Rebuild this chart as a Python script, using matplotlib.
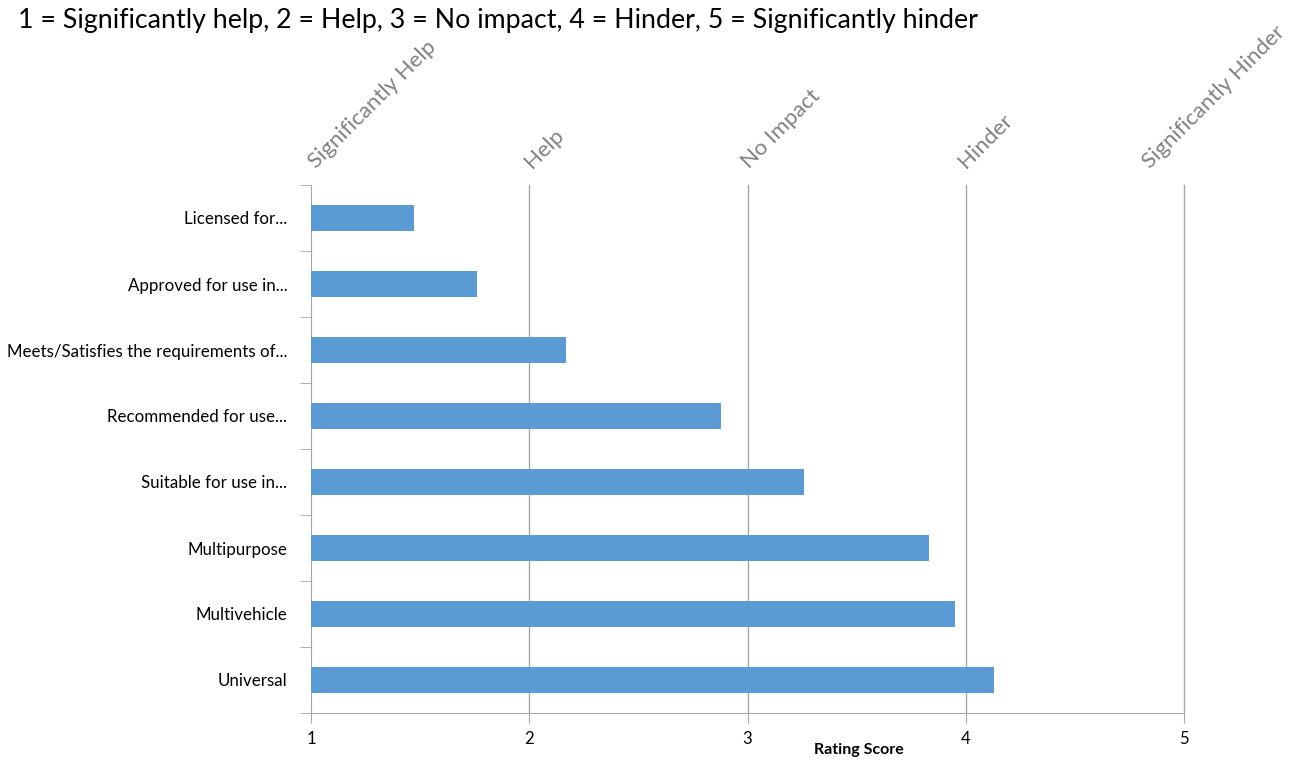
import numpy as np
import matplotlib
matplotlib.use("Agg")
import matplotlib.pyplot as plt

plt.rcParams['font.family'] = ['Lato', 'DejaVu Sans']

# data (bottom to top)
categories = ["Universal", "Multivehicle", "Multipurpose", "Suitable for use in...",
              "Recommended for use...", "Meets/Satisfies the requirements of...",
              "Approved for use in...", "Licensed for..."]
scores = [4.13, 3.95, 3.83, 3.26, 2.88, 2.17, 1.76, 1.47]
scale_ticks = [1, 2, 3, 4, 5]
scale_names = ["Significantly Help", "Help", "No Impact", "Hinder", "Significantly Hinder"]
title = "1 = Significantly help, 2 = Help, 3 = No impact, 4 = Hinder, 5 = Significantly hinder"

fig = plt.figure(figsize=(13.1, 7.65), dpi=100)
ax = fig.add_axes([311/1310, 1-713/765, 873/1310, 528/765])

y = np.arange(len(categories))
ax.barh(y, np.array(scores) - 1, left=1, height=0.39, color="#5B9BD5", zorder=3)

ax.set_xlim(1, 5)
ax.set_ylim(-0.5, len(categories) - 0.5)

grid_c = "#A6A6A6"
ax.set_xticks(scale_ticks)
ax.set_xticklabels([str(t) for t in scale_ticks], fontsize=12)
for t in scale_ticks[1:]:
    ax.axvline(t, color=grid_c, lw=1, zorder=0, clip_on=False)
ax.tick_params(axis='x', length=7, color=grid_c, pad=6)

ax.set_yticks(y)
ax.set_yticklabels(categories, fontsize=12.2)
ax.set_yticks(np.arange(-0.5, len(categories)), minor=True)
ax.tick_params(axis='y', which='major', length=0, pad=17)
ax.tick_params(axis='y', which='minor', length=8, color=grid_c)

for s in ['top', 'right']:
    ax.spines[s].set_visible(False)
ax.spines['left'].set_color(grid_c)
ax.spines['bottom'].set_color(grid_c)

ax.set_xlabel("Rating Score", fontsize=11.5, fontweight='bold', labelpad=0)
ax.xaxis.set_label_coords(0.628, -0.057)

# rotated scale names above gridlines (last one pulled left to fit, like the original)
shifts = [5, 3, 2, 0, -34]
for t, name, dx in zip(scale_ticks, scale_names, shifts):
    ax.annotate(name, (t, 1.03), xycoords=ax.get_xaxis_transform(),
                xytext=(dx, 0), textcoords='offset pixels', rotation=45,
                rotation_mode='anchor', ha='left', va='baseline', fontsize=16,
                color="#808080", annotation_clip=False)

fig.text(18/1310, 1-28/765, title, fontsize=19.3, color="black", ha='left', va='baseline')

fig.savefig("out.png", dpi=100)
